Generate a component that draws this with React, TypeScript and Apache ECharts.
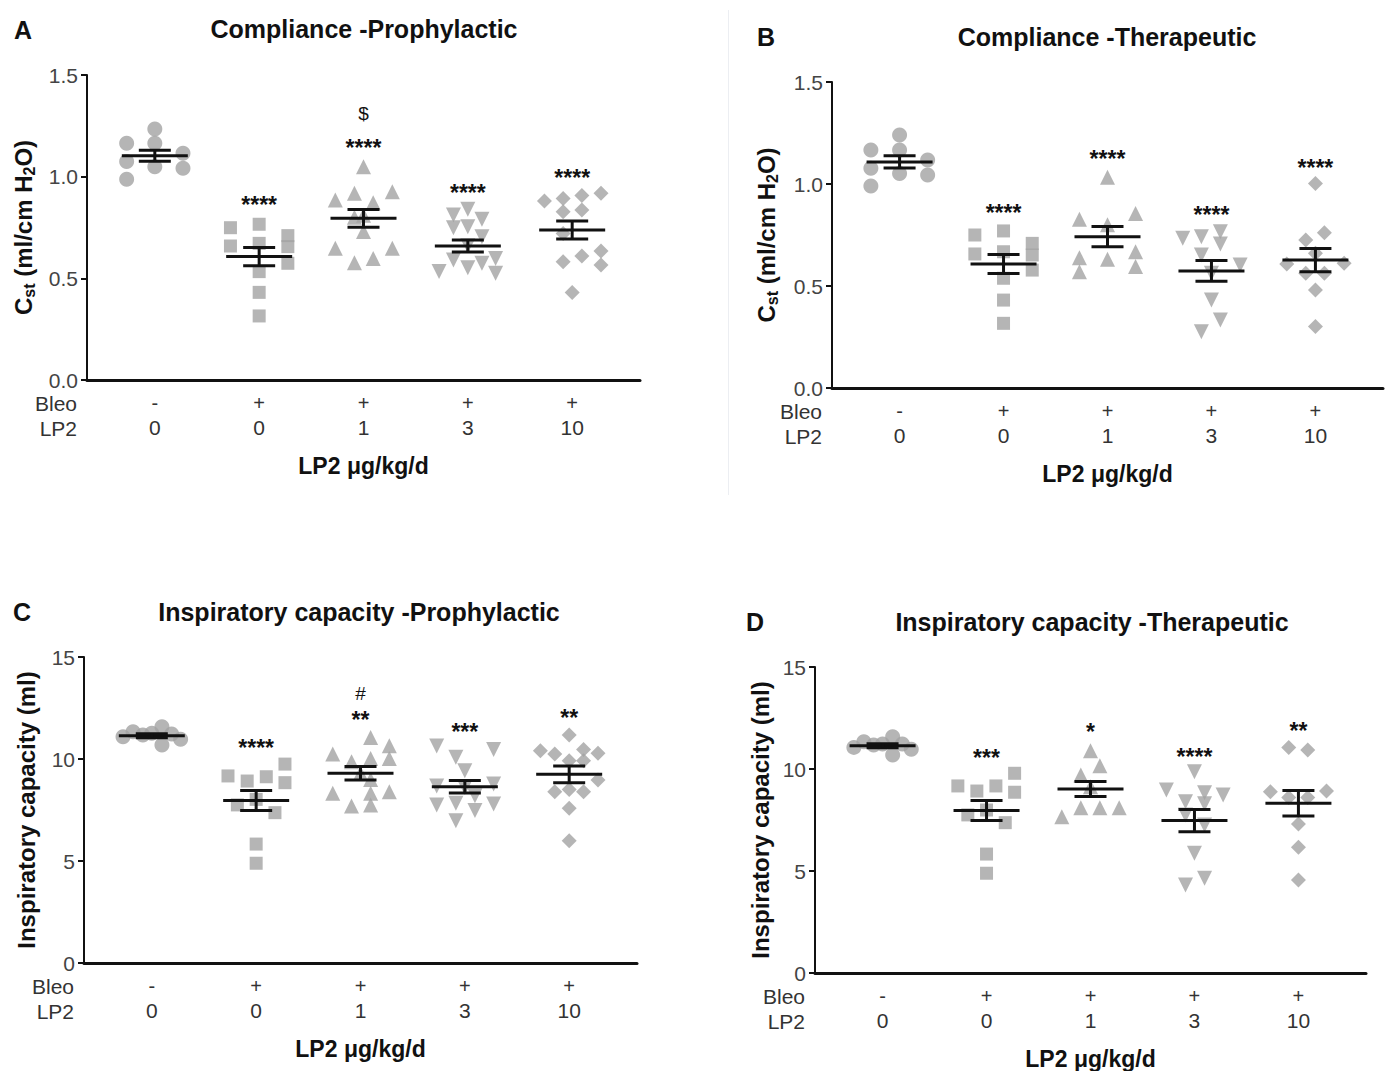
import React, { useEffect, useRef } from 'react';
import * as echarts from 'echarts';

// ---------- categories / tick labels ----------
const categoryIndex = [0, 1, 2, 3, 4];
const bleoRow = ['-', '+', '+', '+', '+'];
const lp2Row = ['0', '0', '1', '3', '10'];
const groupSymbols = ['circle', 'rect', 'triangle', 'triangle', 'diamond'];
const groupRotations = [0, 0, 0, 180, 0];
const groupSizes = [15, 13, 15, 15, 15];
const complianceTicks = [0, 0.5, 1.0, 1.5];
const capacityTicks = [0, 5, 10, 15];

// ---------- Panel A: Compliance - Prophylactic ([jitter, value]) ----------
const A_ctrl = [[-0.27, 1.164], [0, 1.235], [0, 1.164], [-0.27, 1.074], [0, 1.049], [0.27, 1.115], [0.27, 1.041], [-0.27, 0.987]];
const A_lp0 = [[-0.275, 0.749], [0, 0.766], [-0.275, 0.659], [0, 0.672], [0.275, 0.71], [0.275, 0.656], [0.275, 0.574], [0, 0.533], [0, 0.431], [0, 0.315]];
const A_lp1 = [[0, 1.049], [-0.27, 0.885], [-0.087, 0.918], [0.093, 0.872], [0.276, 0.926], [0, 0.81], [-0.087, 0.8], [0, 0.73], [-0.27, 0.648], [0.276, 0.648], [-0.087, 0.577], [0.093, 0.598]];
const A_lp3 = [[-0.138, 0.812], [0, 0.84], [0.135, 0.79], [-0.138, 0.749], [0, 0.754], [0.135, 0.705], [0, 0.66], [-0.276, 0.533], [-0.138, 0.59], [0, 0.552], [0.135, 0.574], [0.266, 0.598], [0.266, 0.525]];
const A_lp10 = [[-0.266, 0.88], [-0.087, 0.893], [0.093, 0.907], [0.276, 0.918], [-0.087, 0.828], [0.093, 0.836], [-0.087, 0.72], [-0.087, 0.582], [0.093, 0.61], [0.276, 0.634], [0.276, 0.566], [0, 0.43]];
const A_mean = [1.103, 0.607, 0.795, 0.659, 0.738];
const A_sem = [0.027, 0.045, 0.044, 0.03, 0.044];
const A_notes = [['****', 1, 0.889], ['****', 2, 1.17], ['$', 2, 1.31], ['****', 3, 0.951], ['****', 4, 1.025]];

// ---------- Panel B: Compliance - Therapeutic ----------
const B_ctrl = [[-0.276, 1.167], [0, 1.24], [0, 1.167], [-0.276, 1.077], [0, 1.052], [0.27, 1.118], [0.27, 1.044], [-0.276, 0.99]];
const B_lp0 = [[-0.276, 0.75], [0, 0.77], [-0.276, 0.657], [0, 0.668], [0.276, 0.709], [0.276, 0.652], [0.276, 0.578], [0, 0.538], [0, 0.431], [0, 0.317]];
const B_lp1 = [[0, 1.033], [-0.27, 0.827], [0.27, 0.856], [0, 0.8], [-0.27, 0.639], [0, 0.631], [0.27, 0.668], [-0.27, 0.57], [0.27, 0.595]];
const B_lp3 = [[-0.276, 0.734], [-0.097, 0.742], [0.086, 0.766], [0.086, 0.706], [-0.097, 0.652], [0.276, 0.603], [0, 0.562], [0, 0.431], [0.086, 0.333], [-0.097, 0.276]];
const B_lp10 = [[0, 1.003], [0.086, 0.761], [-0.093, 0.725], [-0.276, 0.608], [0, 0.66], [0.276, 0.611], [0.086, 0.562], [-0.093, 0.562], [0, 0.48], [0, 0.301]];
const B_mean = [1.108, 0.608, 0.742, 0.574, 0.627];
const B_sem = [0.03, 0.047, 0.05, 0.051, 0.057];
const B_notes = [['****', 1, 0.889], ['****', 2, 1.15], ['****', 3, 0.876], ['****', 4, 1.109]];

// ---------- Panel C: Inspiratory capacity - Prophylactic ----------
const C_ctrl = [[-0.276, 11.09], [-0.18, 11.34], [-0.086, 11.18], [0, 11.26], [0.097, 11.58], [0.097, 10.69], [0.19, 11.23], [0.276, 10.97]];
const C_lp0 = [[-0.27, 9.17], [-0.086, 8.92], [0.097, 9.13], [0.276, 9.75], [0.276, 8.84], [-0.18, 7.75], [0, 8.02], [0.18, 7.37], [0, 5.83], [0, 4.89]];
const C_lp1 = [[0.097, 11.06], [-0.266, 10.25], [0.276, 10.65], [0.276, 10.03], [-0.086, 9.87], [0.097, 10.03], [0, 9.3], [0.097, 9.0], [-0.266, 8.32], [0.097, 8.32], [0.276, 8.4], [-0.086, 7.7], [0.097, 7.75]];
const C_lp3 = [[-0.27, 10.64], [0.276, 10.47], [-0.086, 10.08], [0, 9.43], [-0.27, 8.68], [0.276, 8.77], [0, 8.6], [0.097, 8.2], [-0.27, 7.75], [-0.086, 7.83], [0.276, 7.79], [0.097, 7.47], [-0.086, 6.97]];
const C_lp10 = [[0, 11.18], [-0.276, 10.41], [-0.138, 10.25], [0.138, 10.47], [0.276, 10.28], [0, 9.92], [0.138, 9.92], [0.276, 8.97], [-0.138, 8.4], [0, 8.51], [0.138, 8.4], [0, 7.58], [0, 5.99]];
const C_mean = [11.14, 7.96, 9.3, 8.64, 9.25];
const C_sem = [0.1, 0.49, 0.33, 0.31, 0.41];
const C_notes = [['****', 1, 10.85], ['**', 2, 12.2], ['#', 2, 13.2], ['***', 3, 11.62], ['**', 4, 12.32]];

// ---------- Panel D: Inspiratory capacity - Therapeutic ----------
const D_ctrl = [[-0.276, 11.06], [-0.18, 11.34], [-0.086, 11.18], [0, 11.23], [0.097, 11.58], [0.097, 10.69], [0.19, 11.23], [0.276, 10.97]];
const D_lp0 = [[-0.276, 9.17], [-0.093, 8.92], [0.09, 9.17], [0.27, 9.79], [0.27, 8.86], [-0.18, 7.75], [0, 7.99], [0.18, 7.37], [0, 5.83], [0, 4.89]];
const D_lp1 = [[0, 10.9], [0.09, 10.16], [-0.093, 9.71], [0, 9.13], [-0.276, 7.66], [-0.093, 8.1], [0.09, 8.1], [0.276, 8.1]];
const D_lp3 = [[0, 9.87], [-0.27, 8.97], [0.097, 8.84], [0.276, 8.73], [-0.086, 8.4], [0.097, 8.3], [-0.086, 7.75], [0.097, 7.25], [0, 5.87], [0.097, 4.64], [-0.086, 4.31]];
const D_lp10 = [[-0.093, 11.06], [0.09, 10.93], [-0.27, 8.89], [-0.093, 8.6], [0.09, 8.6], [0.27, 8.92], [0, 7.3], [0, 6.16], [0, 4.56]];
const D_mean = [11.14, 7.96, 9.02, 7.47, 8.32];
const D_sem = [0.1, 0.49, 0.37, 0.55, 0.63];
const D_notes = [['***', 1, 10.85], ['*', 2, 12.11], ['****', 3, 10.9], ['**', 4, 12.16]];

const FONT = '"Liberation Sans", Arial, Helvetica, sans-serif';
const POINT_COLOR = '#a3a3a3';
const INK = '#111111';

const complianceName = '{m|C}{s|st}{m| (ml/cm H}{s|2}{m|O)}';
const capacityName = 'Inspiratory capacity (ml)';

const panels = [
  {
    letter: 'A', title: 'Compliance -Prophylactic', letterPos: [23, 30], titlePos: [364, 29],
    grid: { left: 87, top: 75, width: 553, height: 305 }, nameGap: 50,
    groups: [A_ctrl, A_lp0, A_lp1, A_lp3, A_lp10], mean: A_mean, sem: A_sem, notes: A_notes,
    ticks: complianceTicks, yName: complianceName, decimals: 1,
  },
  {
    letter: 'B', title: 'Compliance -Therapeutic', letterPos: [766, 37], titlePos: [1107, 37],
    grid: { left: 832, top: 82, width: 551, height: 306 }, nameGap: 52,
    groups: [B_ctrl, B_lp0, B_lp1, B_lp3, B_lp10], mean: B_mean, sem: B_sem, notes: B_notes,
    ticks: complianceTicks, yName: complianceName, decimals: 1,
  },
  {
    letter: 'C', title: 'Inspiratory capacity -Prophylactic', letterPos: [22, 612], titlePos: [359, 612],
    grid: { left: 84, top: 657, width: 553, height: 306 }, nameGap: 44,
    groups: [C_ctrl, C_lp0, C_lp1, C_lp3, C_lp10], mean: C_mean, sem: C_sem, notes: C_notes,
    ticks: capacityTicks, yName: capacityName, decimals: 0,
  },
  {
    letter: 'D', title: 'Inspiratory capacity -Therapeutic', letterPos: [755, 622], titlePos: [1092, 622],
    grid: { left: 815, top: 667, width: 551, height: 306 }, nameGap: 41,
    groups: [D_ctrl, D_lp0, D_lp1, D_lp3, D_lp10], mean: D_mean, sem: D_sem, notes: D_notes,
    ticks: capacityTicks, yName: capacityName, decimals: 0,
  },
];

function buildOption() {
  const grids: any[] = [];
  const xAxes: any[] = [];
  const yAxes: any[] = [];
  const series: any[] = [];
  const graphics: any[] = [];

  panels.forEach((p, pi) => {
    grids.push({ ...p.grid, containLabel: false });
    const tickStep = p.ticks[1] - p.ticks[0];
    xAxes.push({
      gridIndex: pi, type: 'value', min: -0.65, max: 4.65,
      name: 'LP2 μg/kg/d', nameLocation: 'middle', nameGap: 74,
      nameTextStyle: { fontSize: 23, fontWeight: 'bold', color: INK, fontFamily: FONT },
      axisLine: { show: true, onZero: false, lineStyle: { color: INK, width: 3 } },
      axisTick: { show: false },
      splitLine: { show: false },
      axisLabel: {
        show: true, customValues: categoryIndex, margin: 10,
        formatter: (v: number) => {
          const i = Math.round(v);
          return `{b|${bleoRow[i]}}\n{l|${lp2Row[i]}}`;
        },
        rich: {
          b: { fontSize: 20, lineHeight: 25, color: '#333', fontFamily: FONT },
          l: { fontSize: 21, lineHeight: 25, color: '#333', fontFamily: FONT },
        },
      },
    });
    yAxes.push({
      gridIndex: pi, type: 'value', min: p.ticks[0], max: p.ticks[p.ticks.length - 1], interval: tickStep,
      name: p.yName, nameLocation: 'middle', nameGap: p.nameGap,
      nameTextStyle: {
        fontSize: 24, fontWeight: 'bold', color: INK, fontFamily: FONT, lineHeight: 28,
        rich: {
          m: { fontSize: 24, fontWeight: 'bold', color: INK, fontFamily: FONT, lineHeight: 28 },
          s: { fontSize: 16, fontWeight: 'bold', color: INK, fontFamily: FONT, lineHeight: 14, verticalAlign: 'bottom' },
        },
      },
      axisLine: { show: true, onZero: false, lineStyle: { color: INK, width: 2 } },
      axisTick: { show: true, length: 6, lineStyle: { color: INK, width: 2 } },
      splitLine: { show: false },
      axisLabel: {
        fontSize: 21, color: '#444', fontFamily: FONT, margin: 9,
        formatter: (v: number) => v.toFixed(p.decimals),
      },
    });

    p.groups.forEach((pts, gi) => {
      series.push({
        type: 'scatter', xAxisIndex: pi, yAxisIndex: pi,
        symbol: groupSymbols[gi], symbolRotate: groupRotations[gi],
        symbolSize: groupSizes[gi],
        itemStyle: { color: POINT_COLOR },
        data: pts.map((d) => [categoryIndex[gi] + d[0], d[1]]),
        z: 2, silent: true,
      });
    });

    series.push({
      type: 'custom', xAxisIndex: pi, yAxisIndex: pi, z: 5, silent: true,
      encode: { x: 0, y: 1 },
      data: categoryIndex.map((i) => [i, p.mean[i], p.sem[i]]),
      renderItem: (_params: any, api: any) => {
        const x = api.value(0);
        const m = api.value(1);
        const s = api.value(2);
        const c = api.coord([x, m]);
        const t = api.coord([x, m + s]);
        const b = api.coord([x, m - s]);
        const ls = { stroke: INK, lineWidth: 3 };
        return {
          type: 'group',
          children: [
            { type: 'line', shape: { x1: c[0] - 33, y1: c[1], x2: c[0] + 33, y2: c[1] }, style: ls },
            { type: 'line', shape: { x1: c[0] - 16, y1: t[1], x2: c[0] + 16, y2: t[1] }, style: ls },
            { type: 'line', shape: { x1: c[0] - 16, y1: b[1], x2: c[0] + 16, y2: b[1] }, style: ls },
            { type: 'line', shape: { x1: c[0], y1: t[1], x2: c[0], y2: b[1] }, style: ls },
          ],
        };
      },
    });

    // significance annotations, drawn as texts at data coordinates
    series.push({
      type: 'custom', xAxisIndex: pi, yAxisIndex: pi, z: 6, silent: true,
      encode: { x: 0, y: 1 },
      data: p.notes.map((n) => [n[1], n[2]]),
      renderItem: (params: any, api: any) => {
        const note = p.notes[params.dataIndex];
        const c = api.coord([api.value(0), api.value(1)]);
        const isStar = String(note[0]).startsWith('*');
        return {
          type: 'text', x: c[0], y: c[1] + (isStar ? 6 : 0),
          style: {
            text: String(note[0]),
            font: isStar ? `bold 23px ${FONT}` : `19px ${FONT}`,
            fill: INK,
            textAlign: 'center', textVerticalAlign: 'middle',
          },
        };
      },
    });

    graphics.push({
      type: 'text', x: p.letterPos[0], y: p.letterPos[1],
      style: { text: p.letter, font: `bold 25px ${FONT}`, fill: INK, textAlign: 'center', textVerticalAlign: 'middle' },
    });
    graphics.push({
      type: 'text', x: p.titlePos[0], y: p.titlePos[1],
      style: { text: p.title, font: `bold 25px ${FONT}`, fill: INK, textAlign: 'center', textVerticalAlign: 'middle' },
    });
    const axisY = p.grid.top + p.grid.height;
    graphics.push({
      type: 'text', x: p.grid.left - 10, y: axisY + 23,
      style: { text: 'Bleo', font: `21px ${FONT}`, fill: '#333', textAlign: 'right', textVerticalAlign: 'middle' },
    });
    graphics.push({
      type: 'text', x: p.grid.left - 10, y: axisY + 48,
      style: { text: 'LP2', font: `21px ${FONT}`, fill: '#333', textAlign: 'right', textVerticalAlign: 'middle' },
    });
  });

  graphics.push({
    type: 'line', shape: { x1: 728.5, y1: 10, x2: 728.5, y2: 495 },
    style: { stroke: '#eceef2', lineWidth: 1 },
  });

  return {
    animation: false,
    backgroundColor: '#ffffff',
    textStyle: { fontFamily: FONT },
    grid: grids,
    xAxis: xAxes,
    yAxis: yAxes,
    series,
    graphic: graphics,
  };
}

export default function App() {
  const ref = useRef<HTMLDivElement>(null);
  useEffect(() => {
    document.body.style.margin = '0';
    if (!ref.current) return;
    const chart = echarts.init(ref.current, undefined, { renderer: 'svg' });
    chart.setOption(buildOption() as any);
    return () => chart.dispose();
  }, []);
  return <div ref={ref} style={{ width: 1390, height: 1071 }} />;
}
